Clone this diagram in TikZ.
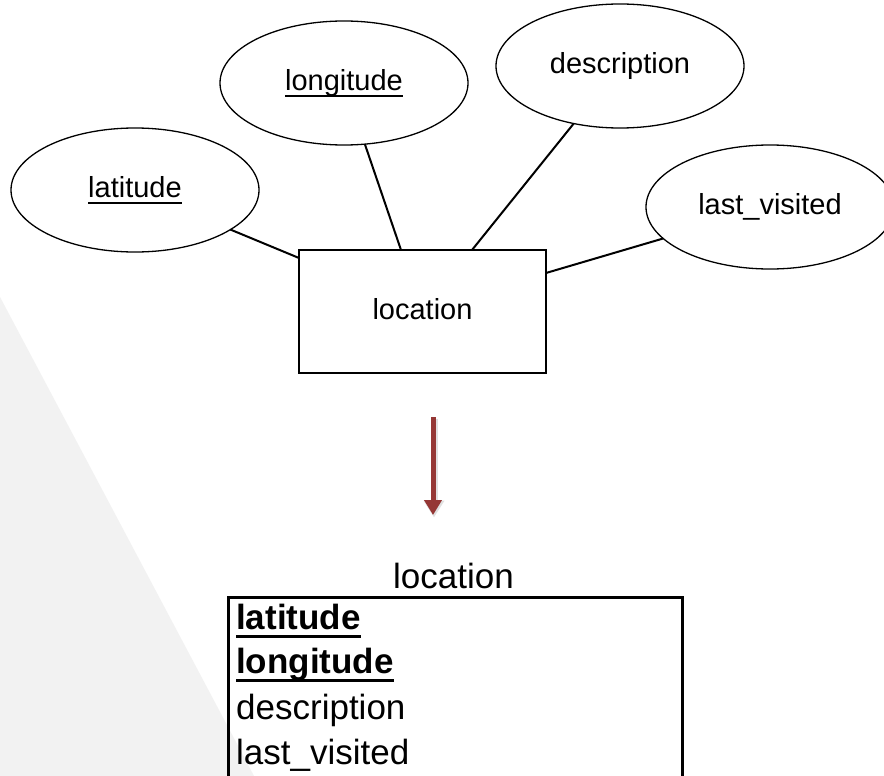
\documentclass[tikz,border=0pt]{standalone}
\usepackage{fontspec}
\setmainfont{Liberation Sans}
\usetikzlibrary{shapes.geometric,arrows.meta,calc}
\definecolor{bggrey}{HTML}{F2F2F2}
\definecolor{arrowred}{HTML}{953735}
\newcommand\myul[3]{\setbox0\hbox{#3}\rlap{\rule[-\dimexpr#1+#2\relax]{\wd0}{#2}}\box0}
\tikzset{
  attr/.style={ellipse, draw=black, line width=1.3pt, minimum width=248pt, minimum height=124pt,
    inner sep=0pt, outer sep=0pt, font=\fontsize{29}{34}\selectfont, text height=21pt, text depth=6pt},
  entity/.style={rectangle, draw=black, line width=2pt, minimum width=247pt, minimum height=123pt,
    inner sep=0pt, outer sep=0pt, font=\fontsize{29}{34}\selectfont, text height=21pt, text depth=6pt},
  conn/.style={draw=black, line width=2pt},
  tbl/.style={rectangle, draw=black, line width=3pt, inner sep=0pt, outer sep=0pt},
  tbltext/.style={anchor=base west, inner sep=0pt, font=\fontsize{35}{40}\selectfont},
  convert/.style={draw=arrowred, line width=5pt, -{Triangle[width=17pt,length=15pt]}},
  convshadow/.style={draw=black, opacity=0.12, line width=7pt, -{Triangle[width=20pt,length=17pt]}}
}
\begin{document}
\begin{tikzpicture}[x=1pt,y=-1pt]
\clip (0,0) rectangle (884,776);
\fill[white] (0,0) rectangle (884,776);
\fill[bggrey] (0,297) -- (254,776) -- (0,776) -- cycle;

% ER diagram
\node[entity] (loc) at (422.5,311.5) {location};
\node[attr] (lat) at (135,190) {\myul{4.5pt}{1.8pt}{latitude}};
\node[attr] (lon) at (344,83) {\myul{4.5pt}{1.8pt}{longitude}};
\node[attr] (desc) at (620,66) {description};
\node[attr] (lv) at (770,207) {last\_visited};

\coordinate (c1) at ($(loc.north west)+(0,8)$);
\coordinate (c2) at ($(loc.north west)+(102,0)$);
\coordinate (c3) at ($(loc.north west)+(173,0)$);
\coordinate (c4) at ($(loc.north east)+(0,23)$);
\draw[conn] (lat) -- (c1);
\draw[conn] (lon) -- (c2);
\draw[conn] (desc) -- (c3);
\draw[conn] (lv) -- (c4);

% arrow
\coordinate (a1) at (433,417);
\coordinate (a2) at (433,515);
\draw[convshadow] ($(a1)+(1,1.5)$) -- ($(a2)+(1,2.5)$);
\draw[convert] (a1) -- (a2);

% relational table
\node[anchor=base, inner sep=0pt, font=\fontsize{35}{40}\selectfont] (ttl) at (453.5,588) {location};
\node[tbl, minimum width=454pt, minimum height=230pt, anchor=north west] (tab) at (228,597) {};
\node[tbltext] (r1) at (236,629) {\bfseries\myul{6pt}{3pt}{latitude}};
\node[tbltext] (r2) at (236,673) {\bfseries\myul{6pt}{3pt}{longitude}};
\node[tbltext] (r3) at (236,719) {description};
\node[tbltext] (r4) at (236,764) {last\_visited};
\end{tikzpicture}
\end{document}
